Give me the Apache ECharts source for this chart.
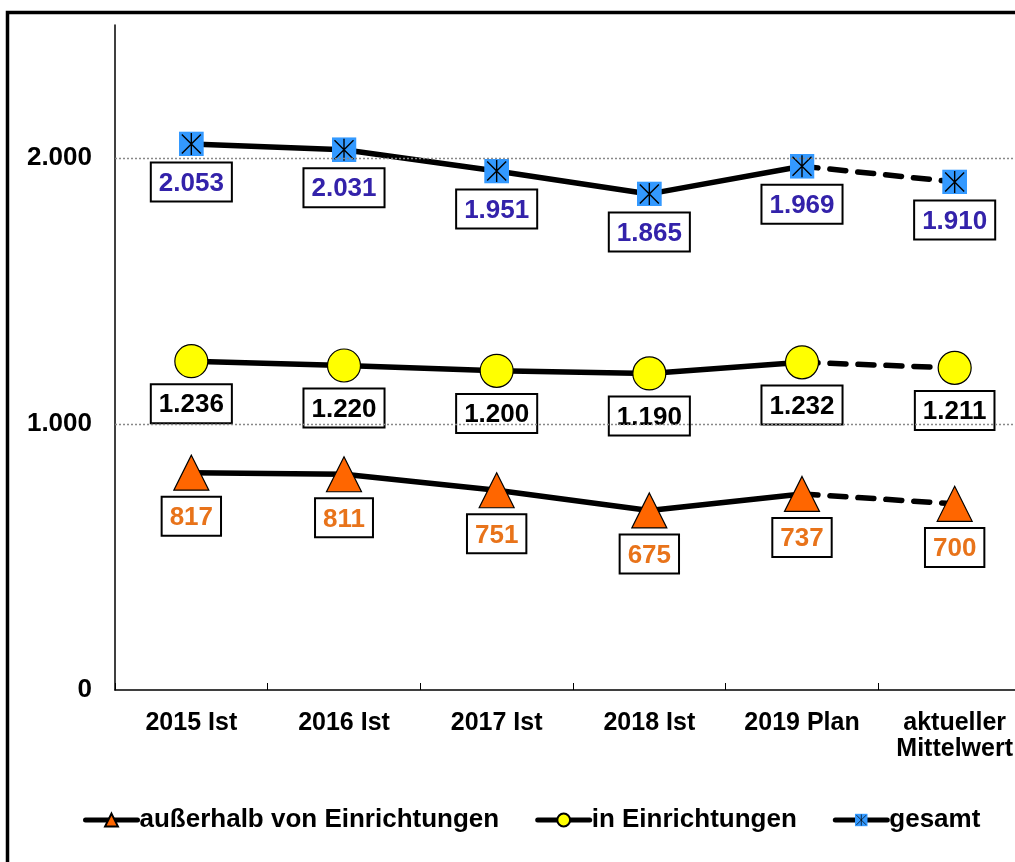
<!DOCTYPE html>
<html>
<head>
<meta charset="utf-8">
<script src="https://cdn.jsdelivr.net/npm/echarts@6/dist/echarts.min.js"></script>
<style>
html,body{margin:0;padding:0;background:#fff;overflow:hidden;width:1015px;height:862px;}
#chart{width:1040px;height:862px;}
</style>
</head>
<body>
<div id="chart"></div>
<script>
const categories = ['2015 Ist', '2016 Ist', '2017 Ist', '2018 Ist', '2019 Plan', 'aktueller\nMittelwert'];
const ausserhalb = [817, 811, 751, 675, 737, 700];
const inEinrichtungen = [1236, 1220, 1200, 1190, 1232, 1211];
const gesamt = [2053, 2031, 1951, 1865, 1969, 1910];
const yTicks = [0, 1000, 2000];
const seriesNames = ['außerhalb von Einrichtungen', 'in Einrichtungen', 'gesamt'];

const FONT = 'Liberation Sans, Arial, sans-serif';
const fmt = v => {
  const s = String(Math.round(v));
  return s.replace(/\B(?=(\d{3})+(?!\d))/g, '.');
};

const svgSquare = "<svg xmlns='http://www.w3.org/2000/svg' width='50' height='50' viewBox='0 0 25 25'>" +
  "<rect width='25' height='25' fill='#3399FF'/>" +
  "<path d='M12.5 1.5 V23.5 M3 3 L22 22 M22 3 L3 22' stroke='#000' stroke-width='1.4' fill='none'/></svg>";
const squareSymbol = 'image://data:image/svg+xml;charset=utf-8,' + encodeURIComponent(svgSquare);

const groups = [
  {name: seriesNames[0], data: ausserhalb, symbol: 'triangle', size: 35, fill: '#FF6600', border: '#000', borderW: 1.2, text: '#E8731A'},
  {name: seriesNames[1], data: inEinrichtungen, symbol: 'circle', size: 33, fill: '#FFFF00', border: '#000', borderW: 1.2, text: '#000'},
  {name: seriesNames[2], data: gesamt, symbol: squareSymbol, size: 25, fill: '#3399FF', border: '#3399FF', borderW: 0, text: '#3322AA'}
];

function labelFor(g) {
  return {
    show: true, position: 'bottom', distance: 7,
    formatter: p => fmt(p.value),
    color: g.text, fontSize: 26, fontWeight: 'bold', fontFamily: FONT, lineHeight: 26,
    backgroundColor: '#fff', borderColor: '#000', borderWidth: 2,
    padding: [7, 7, 4, 7]
  };
}

const series = [];
groups.forEach(g => {
  series.push({
    name: g.name, type: 'line', z: 3,
    data: g.data.map((v, i) => i <= 4 ? v : '-'),
    symbol: g.symbol, symbolSize: g.size, showSymbol: true,
    itemStyle: {color: g.fill, borderColor: g.border, borderWidth: g.borderW},
    lineStyle: {color: '#000', width: 5.5, cap: 'round', join: 'round'},
    label: labelFor(g),
    animation: false
  });
  series.push({
    name: g.name, type: 'line', z: 2,
    data: g.data.map((v, i) => i < 4 ? '-' : (i === 4 ? {value: v, symbol: 'none', label: {show: false}} : v)),
    symbol: g.symbol, symbolSize: g.size, showSymbol: true,
    itemStyle: {color: g.fill, borderColor: g.border, borderWidth: g.borderW},
    lineStyle: {color: '#000', width: 5.5, type: [16, 12], cap: 'round'},
    label: labelFor(g),
    animation: false
  });
});

// grid lines as markLine
series[0].markLine = {
  silent: true, symbol: 'none', label: {show: false},
  lineStyle: {color: '#888', type: [2, 2], width: 1.4},
  data: yTicks.filter(t => t > 0).map(t => ({yAxis: t})),
  animation: false
};

const chart = echarts.init(document.getElementById('chart'), null, {renderer: 'canvas'});
chart.setOption({
  backgroundColor: '#fff',
  animation: false,
  textStyle: {fontFamily: FONT},
  graphic: [{
    type: 'rect', left: 5, top: 10, silent: true,
    shape: {width: 1100, height: 1000},
    style: {fill: 'none', stroke: '#000', lineWidth: 3.5}
  }],
  grid: {left: 115, top: 25, width: 916, height: 665, containLabel: false},
  legend: {
    data: seriesNames.map(n => ({name: n})),
    left: 78, top: 802,
    itemWidth: 52, itemHeight: 16, itemGap: 36,
    lineStyle: {width: 5, color: '#000', type: 'solid', cap: 'round'},
    textStyle: {fontSize: 26, fontWeight: 'bold', color: '#000', fontFamily: FONT, padding: [0, 0, 0, -3]}
  },
  xAxis: {
    type: 'category', data: categories, boundaryGap: true,
    axisLine: {lineStyle: {color: '#000', width: 1.5}},
    axisTick: {show: true, inside: true, length: 7, lineStyle: {color: '#000', width: 1}},
    axisLabel: {color: '#000', fontSize: 25, fontWeight: 'bold', fontFamily: FONT, margin: 20, lineHeight: 26, interval: 0},
    splitLine: {show: false}
  },
  yAxis: {
    type: 'value', min: 0, max: 2500, interval: 1000,
    axisLine: {show: true, lineStyle: {color: '#000', width: 1.5}},
    axisTick: {show: false},
    axisLabel: {
      color: '#000', fontSize: 26, fontWeight: 'bold', fontFamily: FONT, margin: 23,
      formatter: v => yTicks.includes(v) ? fmt(v) : ''
    },
    splitLine: {show: false}
  },
  series: series
});
</script>
</body>
</html>
